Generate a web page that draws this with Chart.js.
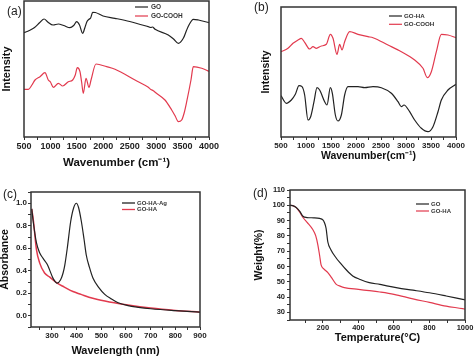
<!DOCTYPE html>
<html><head><meta charset="utf-8">
<script src="https://cdn.jsdelivr.net/npm/chart.js@4.4.1/dist/chart.umd.min.js"></script>
<style>
html,body{margin:0;padding:0;background:#fff}
#wrap{position:relative;width:474px;height:359px;overflow:hidden}
canvas{position:absolute;display:block}
</style></head>
<body><div id="wrap">
<canvas id="ca" width="237" height="180" style="left:0;top:0"></canvas>
<canvas id="cb" width="237" height="180" style="left:237px;top:0"></canvas>
<canvas id="cc" width="237" height="179" style="left:0;top:180px"></canvas>
<canvas id="cd" width="237" height="179" style="left:237px;top:180px"></canvas>
</div>
<script>
// ---------- DATA ----------
// (a) FTIR, arbitrary intensity
const aSeries = ['GO', 'GO-COOH'];
const aWnGO = [500,600,700,800,880,950,1050,1150,1250,1370,1440,1497,1550,1610,1650,1690,1730,1760,1800,1850,1995,2220,2500,2850,2900,2930,2980,3230,3330,3420,3514,3570,3621,3703,3800,4000];
const aIntGO = [104.3,106.5,109.5,114.5,118,115,112,113,111.5,109.3,111.5,115.3,112,103.7,109,115.3,117.7,119,124.7,124.5,121,118.7,115.5,110.3,109.5,110,107.7,102,98,93.7,98.7,106,112,117.7,117,114.3];
const aWnCOOH = [500,583,650,708,803,897,960,1000,1055,1150,1232,1338,1421,1470,1509,1559,1590,1622,1673,1730,1768,1862,2064,2222,2600,2852,2900,2946,3000,3167,3294,3360,3420,3483,3530,3578,3659,3703,3862,4000];
const aIntCOOH = [47.7,47.7,52,57,60.3,64.3,57,55,49.7,53.7,51,55.3,57,62,69.3,65.3,55,43.7,58.7,49.7,57,73,70.3,67.7,57,49.7,47.5,46.3,44,37,27,21,15.3,17,24,35.3,57,70.3,68.7,65.6];
const aXTicks = [500,750,1000,1250,1500,1750,2000,2250,2500,2750,3000,3250,3500,3750,4000];
const aXLabels = [500,1000,1500,2000,2500,3000,3500,4000];

// (b) FTIR, arbitrary intensity
const bSeries = ['GO-HA', 'GO-COOH'];
const bWnHA = [500,607,707,787,860,920,973,1040,1093,1160,1220,1273,1373,1420,1487,1527,1587,1640,1707,1773,1840,2040,2173,2340,2507,2707,2840,2907,2960,3073,3173,3307,3440,3540,3640,3707,3840,4000];
const bIntHA = [41.3,33.7,37,42.7,51.3,50.3,42,17,20.3,35.3,49.3,47,35.3,32,49.3,43.7,22,16,22,42,50.3,50.3,49.3,50.3,49.3,43.7,35.3,30.3,32,25.3,17,8.7,5.3,10.3,25.3,37,47,52.7];
const bWnCOOH = [500,640,740,840,907,973,1073,1140,1207,1307,1407,1487,1540,1620,1673,1720,1773,1873,2040,2240,2340,2640,2907,3173,3340,3427,3507,3607,3707,3840,4000];
const bIntCOOH = [85.3,88.7,93.7,97,98.7,94.7,88,90.3,88.7,91,92.7,102.7,98.7,82.7,92.7,87,95.3,105.3,102.7,100.3,99.3,92,85.3,77,68.7,59.3,65.3,85.3,102.7,102,99.3];
const bXTicks = aXTicks;
const bXLabels = aXLabels;

// (c) UV-vis absorbance
const cSeries = ['GO-HA-Ag', 'GO-HA'];
const cNmAg = [218,225,237,250,264,280,290,305,321,335,345,352,362,376,388,399,408,419,430,439,452,466,490,514,540,568,608,650,700,800,900];
const cAbsAg = [0.95,0.82,0.65,0.56,0.51,0.46,0.41,0.33,0.29,0.32,0.38,0.45,0.60,0.84,0.96,1.0,0.96,0.84,0.68,0.54,0.43,0.336,0.25,0.19,0.15,0.115,0.09,0.075,0.062,0.045,0.032];
const cNmHA = [218,225,237,250,270,290,321,350,385,418,450,485,553,608,700,800,900];
const cAbsHA = [0.95,0.84,0.59,0.47,0.38,0.345,0.29,0.255,0.215,0.19,0.165,0.145,0.115,0.095,0.068,0.047,0.032];
const cXTicks = [250,300,350,400,450,500,550,600,650,700,750,800,850,900];
const cXLabels = [300,400,500,600,700,800,900];
const cYTicks = [-0.1,0,0.1,0.2,0.3,0.4,0.5,0.6,0.7,0.8,0.9,1.0,1.1];
const cYLabels = [0,0.2,0.4,0.6,0.8,1.0];

// (d) TGA
const dSeries = ['GO', 'GO-HA'];
const dTGO = [15,30,50,70,88,110,150,181,200,209,218,228,245,274,300,330,368,410,461,521,554,620,707,800,894,987,1000];
const dWGO = [100,99.8,98.5,96,92.8,92,91.8,91.4,90.5,88.6,85,76,71,65.7,62,58,53.8,51.5,49.4,48.3,47.5,46,44.5,42.8,40.7,38.5,38.2];
const dTHA = [15,30,50,70,88,110,144,160,172,182,190,205,228,250,274,300,321,400,461,521,600,707,800,894,987,1000];
const dWHA = [100,99.8,98.5,95.5,92,89,84,80,74,67,61,58.5,56,52.5,48.5,47,46.2,45,44.2,43.3,41.8,38.8,36.5,34.1,32.4,32.1];
const dXTicks = [100,200,300,400,500,600,700,800,900,1000];
const dXLabels = [200,400,600,800,1000];
const dYTicks = [25,30,35,40,45,50,55,60,65,70,75,80,85,90,95,100,105,110];
const dYLabels = [30,40,50,60,70,80,90,100,110];

// ---------- STYLE / HELPERS ----------
const FONT = "'Liberation Sans', Arial, Helvetica, sans-serif";
Chart.defaults.font.family = FONT;
Chart.defaults.color = '#222';
const BLACK = '#222222', RED = '#e23a4e';

function ds(label, xs, ys, color, w) {
  return { label, data: xs.map((x, i) => ({ x, y: ys[i] })), borderColor: color, backgroundColor: color,
    borderWidth: w || 1.2, pointRadius: 0, fill: false, cubicInterpolationMode: 'monotone' };
}
const has = (arr, v) => arr.some(a => Math.abs(a - v) < 1e-9);

function hScale(o) {
  return {
    type: 'linear', position: 'bottom', min: o.min, max: o.max,
    afterBuildTicks: s => { s.ticks = o.ticks.map(v => ({ value: v })); },
    ticks: { autoSkip: false, maxRotation: 0, padding: o.pad, color: '#222',
      font: { size: o.fs, weight: 'bold' },
      callback: v => has(o.labels, v) ? (o.fmt ? o.fmt(v) : String(v)) : '' },
    grid: { drawOnChartArea: false, drawTicks: true, tickLength: 3, color: '#333', lineWidth: 1 },
    border: { display: false },
    title: { display: true, text: o.title, color: '#111',
      font: { size: o.tfs, weight: 'bold', lineHeight: 1 }, padding: { top: 0, bottom: o.tpb } },
    afterFit: s => { s.height = o.h; }
  };
}
function vScale(o) {
  const sc = {
    type: 'linear', position: 'left', min: o.min, max: o.max,
    border: { display: false },
    title: { display: true, text: o.title, color: '#111',
      font: { size: o.tfs, weight: 'bold', lineHeight: 1 }, padding: { top: o.tpt, bottom: 0 } },
    afterFit: s => { s.width = o.w; }
  };
  if (o.ticks) {
    sc.afterBuildTicks = s => { s.ticks = o.ticks.map(v => ({ value: v })); };
    sc.ticks = { autoSkip: false, padding: o.pad, color: '#222', font: { size: o.fs, weight: 'bold' },
      callback: v => has(o.labels, v) ? (o.fmt ? o.fmt(v) : String(v)) : '' };
    sc.grid = { drawOnChartArea: false, drawTicks: true, tickLength: 3, color: '#333', lineWidth: 1 };
  } else {
    sc.ticks = { display: false };
    sc.grid = { display: false };
  }
  return sc;
}
function decor(o) {
  return {
    id: 'decor',
    afterDraw(chart) {
      const { ctx, chartArea: a } = chart;
      ctx.save();
      ctx.strokeStyle = '#333'; ctx.lineWidth = 1.5;
      ctx.strokeRect(a.left, a.top, a.right - a.left, a.bottom - a.top);
      ctx.fillStyle = '#222'; ctx.textBaseline = 'middle'; ctx.textAlign = 'left';
      ctx.font = '12px ' + FONT;
      ctx.fillText(o.tag, o.tagX, o.tagY);
      chart.data.datasets.forEach((d, i) => {
        const y = o.ly + i * o.ldy;
        ctx.strokeStyle = d.borderColor; ctx.lineWidth = o.lw || 1.2;
        ctx.beginPath(); ctx.moveTo(o.lx1, y); ctx.lineTo(o.lx2, y); ctx.stroke();
        ctx.fillStyle = '#333'; ctx.font = 'bold ' + o.lfs + 'px ' + FONT;
        ctx.fillText(d.label, o.tx, y);
      });
      ctx.restore();
    }
  };
}
const base = (pad) => ({ responsive: false, animation: false, devicePixelRatio: 1,
  layout: { padding: pad }, plugins: { legend: { display: false }, tooltip: { enabled: false } } });

// (a)
new Chart(document.getElementById('ca'), {
  type: 'line',
  data: { datasets: [ds(aSeries[0], aWnGO, aIntGO, BLACK), ds(aSeries[1], aWnCOOH, aIntCOOH, RED)] },
  options: Object.assign(base({ left: 0, right: 28, top: 1, bottom: 0 }), {
    scales: {
      x: hScale({ min: 500, max: 4000, ticks: aXTicks, labels: aXLabels, fs: 9, pad: 1,
        title: 'Wavenumber (cm\u207B\u00B9)', tfs: 11.5, tpb: 11, h: 43 }),
      y: vScale({ min: 0, max: 136, title: 'Intensity', tfs: 11, tpt: 1.5, w: 24 })
    }
  }),
  plugins: [decor({ tag: '(a)', tagX: 7, tagY: 12, lx1: 135, lx2: 148, ly: 7, ldy: 9, tx: 151, lfs: 6.5 })]
});

// (b)
new Chart(document.getElementById('cb'), {
  type: 'line',
  data: { datasets: [ds(bSeries[0], bWnHA, bIntHA, BLACK), ds(bSeries[1], bWnCOOH, bIntCOOH, RED)] },
  options: Object.assign(base({ left: 0, right: 18, top: 7, bottom: 0 }), {
    scales: {
      x: hScale({ min: 500, max: 4000, ticks: bXTicks, labels: bXLabels, fs: 8, pad: 1,
        title: 'Wavenumber(cm\u207B\u00B9)', tfs: 10.5, tpb: 18.5, h: 43 }),
      y: vScale({ min: 0, max: 130, title: 'Intensity', tfs: 10.5, tpt: 23.5, w: 44 })
    }
  }),
  plugins: [decor({ tag: '(b)', tagX: 17, tagY: 8, lx1: 152, lx2: 165, ly: 16, ldy: 8.3, tx: 167, lfs: 6.2 })]
});

// (c)
new Chart(document.getElementById('cc'), {
  type: 'line',
  data: { datasets: [ds(cSeries[0], cNmAg, cAbsAg, BLACK), ds(cSeries[1], cNmHA, cAbsHA, RED, 1.5)] },
  options: Object.assign(base({ left: 0, right: 37, top: 12, bottom: 0 }), {
    scales: {
      x: hScale({ min: 215, max: 900, ticks: cXTicks, labels: cXLabels, fs: 8, pad: 1,
        title: 'Wavelength (nm)', tfs: 11, tpb: 2.5, h: 32 }),
      y: vScale({ min: -0.1, max: 1.1, ticks: cYTicks, labels: cYLabels, fs: 8, pad: 1,
        fmt: v => v.toFixed(1), title: 'Absorbance', tfs: 10.5, tpt: 0, w: 31 })
    }
  }),
  plugins: [decor({ tag: '(c)', tagX: 3, tagY: 15, lx1: 122, lx2: 135, ly: 23, ldy: 6.5, tx: 137, lfs: 6, lw: 1.3 })]
});

// (d)
new Chart(document.getElementById('cd'), {
  type: 'line',
  data: { datasets: [ds(dSeries[0], dTGO, dWGO, BLACK), ds(dSeries[1], dTHA, dWHA, RED)] },
  options: Object.assign(base({ left: 0, right: 9, top: 10, bottom: 0 }), {
    scales: {
      x: hScale({ min: 15, max: 1000, ticks: dXTicks, labels: dXLabels, fs: 7.5, pad: 0.5,
        title: 'Temperature(\u00B0C)', tfs: 11, tpb: 15.5, h: 39 }),
      y: vScale({ min: 25, max: 110, ticks: dYTicks, labels: dYLabels, fs: 7.5, pad: 2,
        title: 'Weight(%)', tfs: 10.5, tpt: 16.75, w: 53 })
    }
  }),
  plugins: [decor({ tag: '(d)', tagX: 16, tagY: 14, lx1: 179, lx2: 192, ly: 24, ldy: 7, tx: 194, lfs: 6 })]
});
</script>
</body></html>
